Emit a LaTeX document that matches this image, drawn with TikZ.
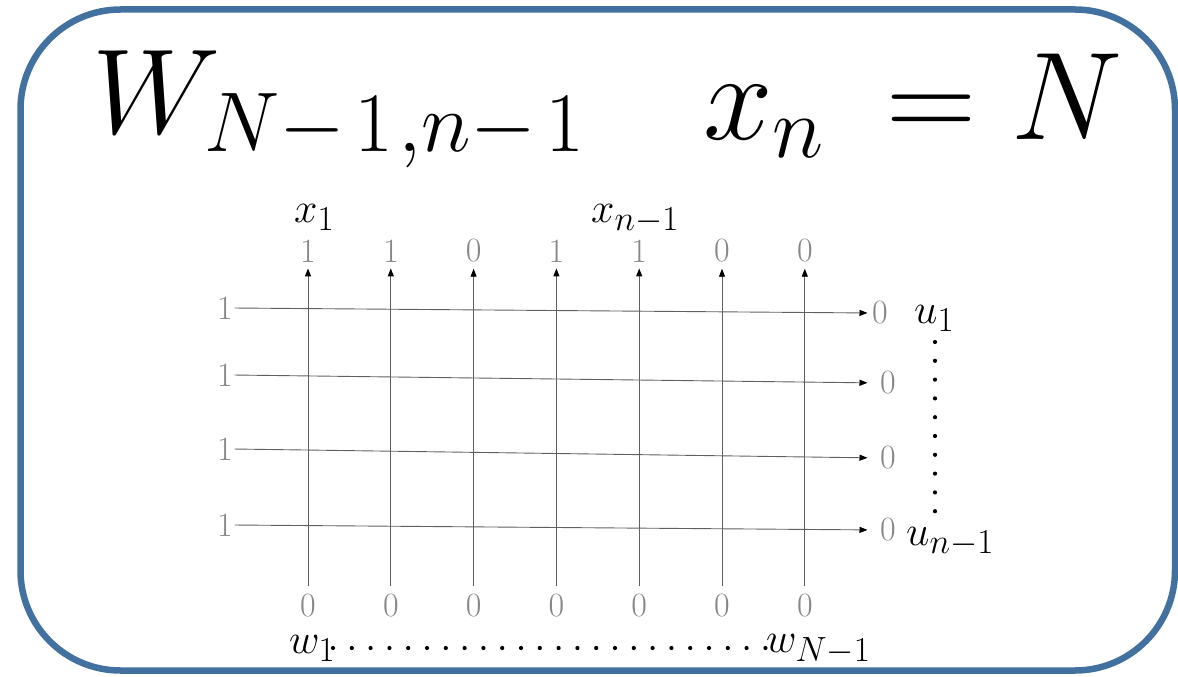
\documentclass[tikz,border=0pt]{standalone}
\usepackage{fix-cm}
\usetikzlibrary{arrows.meta}
\DeclareMathSizes{42}{42}{35}{30}
\definecolor{frameblue}{RGB}{66,113,160}
\definecolor{lblgray}{RGB}{135,135,135}
\definecolor{wiregray}{RGB}{95,95,95}
\begin{document}
\begin{tikzpicture}[x=1pt,y=-1pt,
  lbl/.style={text=lblgray,inner sep=0pt,font=\fontsize{34}{40}\selectfont},
  mlab/.style={inner sep=0pt,anchor=base west,font=\fontsize{42}{48}\selectfont},
  title/.style={inner sep=0pt,anchor=base west},
  wire/.style={draw=wiregray,line width=0.9pt},
  arr/.style={-{Triangle[length=8pt,width=6pt,color=black]}},
  dotline/.style={line width=4.2pt,line cap=round,dash pattern=on 0pt off 18.8pt},
  frame/.style={draw=frameblue,line width=6.5pt,rounded corners=100pt}
]
\useasboundingbox (0,0) rectangle (1178,677);
\draw[frame] (20.5,9.5) rectangle (1175,670.5);

% title
\node[title,font=\fontsize{121}{140}\selectfont] (tl) at (92,133)
  {$W_{N-\mkern2mu 1\mkern1mu,n-\mkern2mu 1}$};
\node[title,font=\fontsize{125}{140}\selectfont] (tr) at (703,139) {$x_n \mkern4mu = N$};

% vertical wires
\foreach \i/\t in {0/1,1/1,2/0,3/1,4/1,5/0,6/0} {
  \node[lbl] (top\i) at (308+82.8*\i,251) {\t};
  \node[lbl] (bot\i) at (308+82.8*\i,606) {0};
  \draw[wire,arr,shorten <=8pt,shorten >=6pt] (bot\i.north) -- (top\i.south);
}

% horizontal wires
\foreach \j/\ly/\rx/\ry/\sh in {1/308/880/313/4.5,2/375/888/383/12.5,3/449/888/458/12.5,4/525/888/530/12.5} {
  \node[lbl] (l\j) at (225,\ly) {1};
  \node[lbl] (r\j) at (\rx,\ry) {0};
  \draw[wire,arr,shorten <=1.5pt,shorten >=\sh pt] (l\j.east) -- (r\j.west);
}

% labels
\node[mlab] (x1) at (294,222) {$x_1$};
\node[mlab] (xn) at (591,222) {$x_{n-1}$};
\node[mlab] (u1) at (914,323) {$u_1$};
\node[mlab] (un) at (906,545) {$u_{n-1}$};
\node[mlab] (w1) at (289,653) {$w_1$};
\node[mlab] (wN) at (766,652) {$w_{N-1}$};

% dotted lines
\coordinate (ua) at (935,342);
\coordinate (ub) at (935,512.5);
\draw[dotline] (ua) -- (ub);
\coordinate (wa) at (333,648);
\coordinate (wb) at (766.5,648);
\draw[dotline] (wa) -- (wb);
\end{tikzpicture}
\end{document}
